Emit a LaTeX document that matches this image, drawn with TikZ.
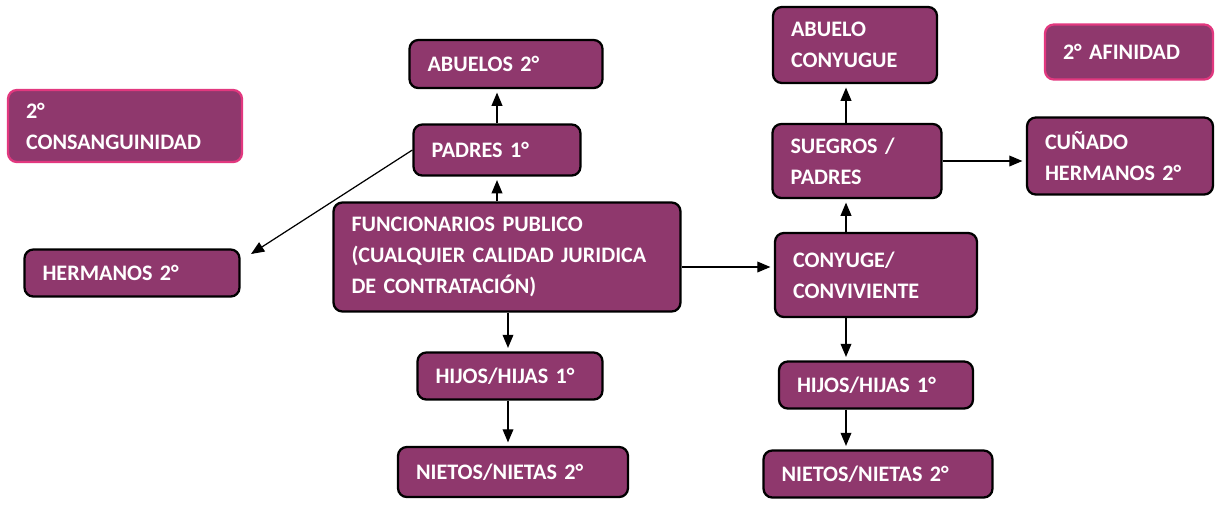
\documentclass[tikz,border=0pt]{standalone}
\usepackage{fontspec}
\setmainfont{Carlito}
\usepackage{tikz}
\usetikzlibrary{arrows, positioning, calc}
\definecolor{morado}{HTML}{8F386D}
\definecolor{rosa}{HTML}{E2387F}
\tikzstyle{caja} = [draw=black, fill=morado, line width=1.3pt, rectangle, rounded corners=5pt, text=white, font=\bfseries\fontsize{12.6}{17.6}\selectfont, align=left, inner xsep=0.36cm, inner ysep=2pt]
\tikzstyle{leyenda} = [caja, draw=rosa]
\tikzstyle{flecha} = [-triangle 45, line width=0.7pt, shorten >=2pt]

\begin{document}
\begin{tikzpicture}[x=0.02cm, y=-0.02cm]
	\useasboundingbox (0,0) rectangle (1218,505);
	% lado consanguinidad
	\node [leyenda, text width=3.96cm, minimum height=1.44cm] (consang) at (125,126) {2°\\CONSANGUINIDAD};
	\node [caja, text width=3.14cm, minimum height=0.96cm] (abuelos) at (506,64) {ABUELOS 2°};
	\node [caja, text width=2.62cm, minimum height=1.02cm] (padres) at (497,150) {PADRES 1°};
	\node [caja, text width=6.22cm, minimum height=2.18cm] (func) at (507,257) {FUNCIONARIOS PUBLICO\\(CUALQUIER CALIDAD JURIDICA\\DE CONTRATACIÓN)};
	\node [caja, text width=3.58cm, minimum height=0.94cm] (hermanos) at (132,273) {HERMANOS 2°};
	\node [caja, text width=2.98cm, minimum height=0.94cm] (hijosA) at (510,376) {HIJOS/HIJAS 1°};
	\node [caja, text width=3.88cm, minimum height=1.00cm] (nietosA) at (513,472) {NIETOS/NIETAS 2°};
	% lado afinidad
	\node [caja, text width=2.56cm, minimum height=1.52cm] (abueloC) at (855,45) {ABUELO\\CONYUGUE};
	\node [leyenda, text width=2.64cm, minimum height=1.10cm] (afinidad) at (1129,52) {2° AFINIDAD};
	\node [caja, text width=2.66cm, minimum height=1.48cm] (suegros) at (857,161) {SUEGROS /\\PADRES};
	\node [caja, text width=3.00cm, minimum height=1.54cm] (cunado) at (1120,156) {CUÑADO\\HERMANOS 2°};
	\node [caja, text width=3.32cm, minimum height=1.68cm] (conyuge) at (876,275) {CONYUGE/\\CONVIVIENTE};
	\node [caja, text width=3.16cm, minimum height=0.94cm] (hijosB) at (876,385) {HIJOS/HIJAS 1°};
	\node [caja, text width=3.86cm, minimum height=0.94cm] (nietosB) at (878,474) {NIETOS/NIETAS 2°};
	% ejes verticales
	\coordinate (ejeA) at (497,0);
	\coordinate (ejeA2) at (508,0);
	\coordinate (ejeB) at (846,0);
	% conexiones
	\draw [flecha] (func.north -| ejeA) -- (padres.south -| ejeA);
	\draw [flecha] (padres.north -| ejeA) -- (abuelos.south -| ejeA);
	\draw [flecha] (padres.west) -- ([shift={(0.15cm,-0.15cm)}]hermanos.north east);
	\draw [flecha] (func.south -| ejeA2) -- (hijosA.north -| ejeA2);
	\draw [flecha] (hijosA.south -| ejeA2) -- (nietosA.north -| ejeA2);
	\draw [flecha] ([yshift=-0.2cm]func.east) -- ([yshift=-0.2cm]func.east -| conyuge.west);
	\draw [flecha] (conyuge.north -| ejeB) -- (suegros.south -| ejeB);
	\draw [flecha] (suegros.north -| ejeB) -- (abueloC.south -| ejeB);
	\draw [flecha] (suegros.east) -- (suegros.east -| cunado.west);
	\draw [flecha] (conyuge.south -| ejeB) -- (hijosB.north -| ejeB);
	\draw [flecha] (hijosB.south -| ejeB) -- (nietosB.north -| ejeB);
\end{tikzpicture}
\end{document}
